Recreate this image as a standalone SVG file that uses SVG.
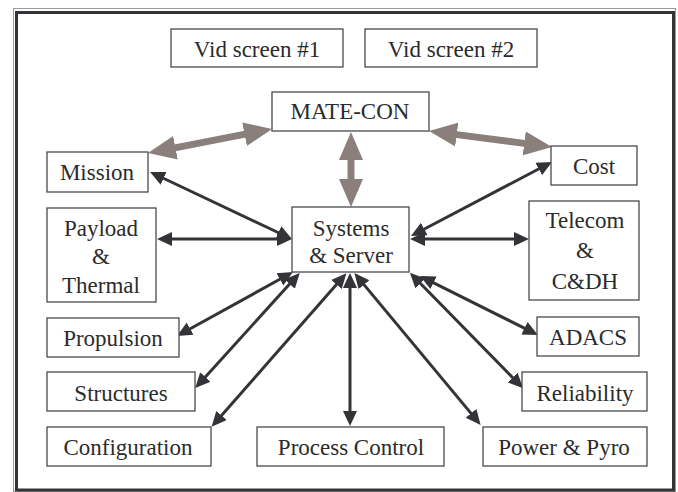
<svg xmlns="http://www.w3.org/2000/svg" width="678" height="492" viewBox="0 0 678 492">
  <defs>
    <style>
      .box { fill: #ffffff; stroke: #4a4a4a; stroke-width: 1.3; }
      .lbl { font-family: "Liberation Serif", "Times New Roman", serif; font-size: 23px; fill: #2b2b2b; text-anchor: middle; }
      .link { stroke: #333338; stroke-width: 3; fill: none; marker-start: url(#headDark); marker-end: url(#headDark); }
      .bus { stroke: #8b7f7c; stroke-width: 7; fill: none; marker-start: url(#headGray); marker-end: url(#headGray); }
    </style>
    <marker id="headDark" markerUnits="userSpaceOnUse" viewBox="0 -8 16 16" markerWidth="16" markerHeight="16" refX="2" refY="0" orient="auto-start-reverse">
      <path d="M0,-7 L15,0 L0,7 z" fill="#333338"/>
    </marker>
    <marker id="headGray" markerUnits="userSpaceOnUse" viewBox="0 -13 30 26" markerWidth="30" markerHeight="26" refX="2" refY="0" orient="auto-start-reverse">
      <path d="M0,-12 L28,0 L0,12 z" fill="#8b7f7c"/>
    </marker>
  </defs>

  <rect width="678" height="492" fill="#ffffff"/>

  <!-- outer frame -->
  <rect x="13.5" y="8.5" width="662" height="483" fill="none" stroke="#9a9a9a" stroke-width="1"/>
  <rect x="16.5" y="12.5" width="657" height="477.5" fill="none" stroke="#333338" stroke-width="3"/>

  <!-- connectors -->
  <g id="connectors">
    <line class="bus" x1="173.5" y1="148.1" x2="246.5" y2="133.9"/>
    <line class="bus" x1="454.8" y1="134.4" x2="526.2" y2="143.6"/>
    <line class="bus" x1="351" y1="158" x2="351" y2="181"/>

    <line class="link" x1="161.8" y1="177.5" x2="280.2" y2="233.5"/>
    <line class="link" x1="170" y1="239" x2="279" y2="239"/>
    <line class="link" x1="422.5" y1="230" x2="540.5" y2="168"/>
    <line class="link" x1="423" y1="239" x2="516" y2="239"/>
    <line class="link" x1="281.6" y1="278.3" x2="188.4" y2="329.7"/>
    <line class="link" x1="291" y1="282.6" x2="204" y2="378.4"/>
    <line class="link" x1="337.8" y1="283" x2="220.2" y2="417"/>
    <line class="link" x1="350" y1="286" x2="350" y2="413"/>
    <line class="link" x1="362.7" y1="283.1" x2="472.3" y2="414.9"/>
    <line class="link" x1="419" y1="282" x2="514" y2="379"/>
    <line class="link" x1="431.7" y1="281.8" x2="526.3" y2="329.2"/>
  </g>

  <!-- nodes -->
  <g id="vid1">
    <rect class="box" x="171" y="29" width="172" height="38"/>
    <text class="lbl" x="257" y="57">Vid screen #1</text>
  </g>
  <g id="vid2">
    <rect class="box" x="365" y="29" width="172" height="38"/>
    <text class="lbl" x="451" y="57">Vid screen #2</text>
  </g>
  <g id="matecon">
    <rect class="box" x="272" y="92" width="157" height="39"/>
    <text class="lbl" x="350" y="119">MATE-CON</text>
  </g>
  <g id="mission">
    <rect class="box" x="47" y="152" width="101" height="40"/>
    <text class="lbl" x="97" y="179.5">Mission</text>
  </g>
  <g id="cost">
    <rect class="box" x="551" y="146" width="86" height="39"/>
    <text class="lbl" x="594" y="173.5">Cost</text>
  </g>
  <g id="payload">
    <rect class="box" x="47" y="208" width="109" height="94"/>
    <text class="lbl" x="101" y="236">Payload</text>
    <text class="lbl" x="101" y="264">&amp;</text>
    <text class="lbl" x="101" y="293">Thermal</text>
  </g>
  <g id="systems">
    <rect class="box" x="292" y="207" width="117" height="65"/>
    <text class="lbl" x="351" y="236">Systems</text>
    <text class="lbl" x="351" y="263">&amp; Server</text>
  </g>
  <g id="telecom">
    <rect class="box" x="529" y="201" width="110" height="99"/>
    <text class="lbl" x="585" y="228">Telecom</text>
    <text class="lbl" x="585" y="258">&amp;</text>
    <text class="lbl" x="585" y="289">C&amp;DH</text>
  </g>
  <g id="propulsion">
    <rect class="box" x="47" y="318" width="132" height="39"/>
    <text class="lbl" x="113" y="346">Propulsion</text>
  </g>
  <g id="adacs">
    <rect class="box" x="537" y="317" width="102" height="39"/>
    <text class="lbl" x="588" y="344.5">ADACS</text>
  </g>
  <g id="structures">
    <rect class="box" x="47" y="372" width="148" height="39"/>
    <text class="lbl" x="121" y="401">Structures</text>
  </g>
  <g id="reliability">
    <rect class="box" x="522" y="372" width="125" height="39"/>
    <text class="lbl" x="585" y="401">Reliability</text>
  </g>
  <g id="configuration">
    <rect class="box" x="47" y="427" width="164" height="39"/>
    <text class="lbl" x="128" y="455">Configuration</text>
  </g>
  <g id="process">
    <rect class="box" x="257" y="427" width="187" height="39"/>
    <text class="lbl" x="351" y="455">Process Control</text>
  </g>
  <g id="power">
    <rect class="box" x="483" y="427" width="164" height="39"/>
    <text class="lbl" x="564" y="455">Power &amp; Pyro</text>
  </g>
</svg>
